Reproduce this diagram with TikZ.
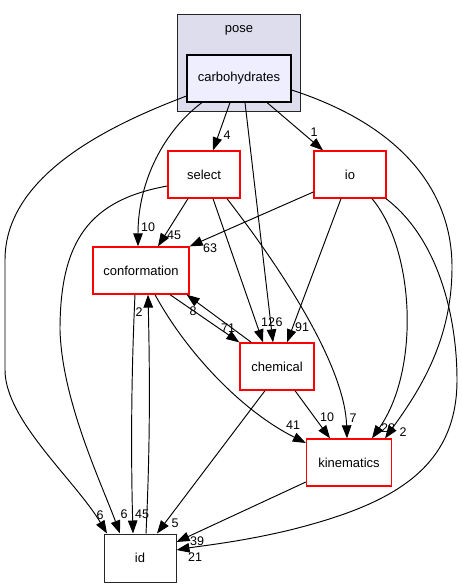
\documentclass[tikz,border=0pt]{standalone}
\usepackage{fontspec}
\setmainfont{Liberation Sans}
\usetikzlibrary{arrows.meta,calc}
\definecolor{clusterfill}{HTML}{DDDDEE}
\definecolor{carbfill}{HTML}{EEEEFF}
\begin{document}
\begin{tikzpicture}[x=1pt,y=-1pt,
  dirnode/.style={draw=red, fill=white, line width=1.3pt, minimum height=47pt, inner sep=0pt, font=\fontsize{13}{15}\selectfont},
  edge/.style={line width=0.95pt, -{Triangle[length=13pt,width=9.5pt]}},
  lbl/.style={font=\fontsize{12.5}{14}\selectfont, inner sep=0pt}]
\useasboundingbox (0,0) rectangle (461,588);
% cluster
\node[draw=black!85, fill=clusterfill, line width=1pt, minimum width=123pt, minimum height=97pt, inner sep=0pt] (pose) at (238.5,63.5) {};
\node[font=\fontsize{13}{15}\selectfont, inner sep=0pt] (posel) at (239,30) {pose};
\node[draw=black, fill=carbfill, line width=1.1pt, minimum width=104pt, minimum height=47pt, inner sep=0pt, font=\fontsize{13}{15}\selectfont] (carb) at (239,78.5) {carbohydrates};
% nodes
\node[dirnode, minimum width=72pt] (select) at (204,174.5) {select};
\node[dirnode, minimum width=96pt] (conf) at (141,270.5) {conformation};
\node[dirnode, minimum width=72pt] (io) at (350,174.5) {io};
\node[dirnode, minimum width=74pt] (chem) at (277,366.5) {chemical};
\node[dirnode, minimum width=85pt] (kin) at (349,462.5) {kinematics};
\node[dirnode, draw=black!85, line width=1pt, minimum width=72pt, minimum height=48pt] (id) at (140,558) {id};
% edges
\draw[edge] ($(carb.west)+(0,17.5)$) .. controls (110,125) and (5,175) .. (5,260) -- (5,370) .. controls (5,420) and (75,480) .. ($(id.north)+(-33,0)$);
\node[lbl] (l1) at (100,515) {6};
\draw[edge] ($(carb.south)+(-37,0)$) .. controls (165,130) and (138,180) .. ($(conf.north)+(-3,0)$);
\node[lbl] (l2) at (148,227) {10};
\draw[edge] ($(carb.south)+(-9,0)$) -- ($(select.north)+(9,0)$);
\node[lbl] (l3) at (227,135) {4};
\draw[edge] ($(carb.south)+(6,0)$) -- ($(chem.north)+(-4,0)$);
\node[lbl] (l4) at (279,322) {6};
\draw[edge] ($(carb.south)+(28,0)$) -- ($(io.north)+(-27,0)$);
\node[lbl] (l5) at (314,132) {1};
\draw[edge] ($(carb.east)+(0,11.5)$) .. controls (400,125) and (452,190) .. (452,267) .. controls (452,340) and (420,390) .. ($(kin.north)+(36,0)$);
\node[lbl] (l6) at (403,432) {2};
\draw[edge] ($(select.south)+(-16,0)$) -- ($(conf.north)+(17,0)$);
\node[lbl] (l7) at (174,235) {45};
\draw[edge] ($(select.west)+(0,11.5)$) .. controls (90,200) and (60,240) .. (60,330) .. controls (62,400) and (100,480) .. ($(id.north)+(-20,0)$);
\node[lbl] (l8) at (124,514) {6};
\draw[edge] ($(select.south)+(9,0)$) -- ($(chem.north)+(-14,0)$);
\node[lbl] (l9) at (268,322) {12};
\draw[edge] ($(select.south)+(23,0)$) .. controls (290,280) and (345,370) .. ($(kin.north)+(-2,0)$);
\node[lbl] (l10) at (353,418) {7};
\draw[edge] ($(io.west)+(0,17.5)$) -- (conf.north east);
\node[lbl] (l11) at (210,248) {63};
\draw[edge] ($(io.south)+(-9,0)$) -- ($(chem.north)+(10,0)$);
\node[lbl] (l12) at (302,327) {91};
\draw[edge] ($(io.south)+(22,0)$) .. controls (415,250) and (420,370) .. ($(kin.north)+(23,0)$);
\node[lbl] (l13) at (388,428) {28};
\draw[edge] ($(io.south)+(36,0)$) .. controls (440,240) and (457,320) .. (457,380) .. controls (457,470) and (390,505) .. (290,530) .. controls (240,542) and (200,546) .. ($(id.east)+(0,-8)$);
\node[lbl] (l14) at (195,557) {21};
\draw[edge] ($(conf.south)+(-6,0)$) .. controls (131,380) and (131,460) .. ($(id.north)+(-7,0)$);
\node[lbl] (l15) at (142,514) {45};
\draw[edge] ($(id.north)+(6,0)$) .. controls (150,450) and (150,380) .. ($(conf.south)+(7,0)$);
\node[lbl] (l16) at (139,312) {2};
\draw[edge] ($(conf.south)+(29,0)$) -- (chem.north west);
\node[lbl] (l17) at (228,328) {71};
\draw[edge] ($(chem.north west)+(12,0)$) -- ($(conf.south east)+(-3,0)$);
\node[lbl] (l18) at (193,311) {8};
\draw[edge] ($(conf.south)+(14,0)$) .. controls (185,350) and (240,410) .. ($(kin.west)+(0,-19.5)$);
\node[lbl] (l19) at (293,425) {41};
\draw[edge] ($(chem.south)+(18,0)$) -- ($(kin.north)+(-19,0)$);
\node[lbl] (l20) at (327,417) {10};
\draw[edge] ($(chem.south)+(-12,0)$) -- ($(id.north)+(17,0)$);
\node[lbl] (l21) at (175,523) {5};
\draw[edge] ($(kin.west)+(0,19.5)$) -- ($(id.east)+(0,-16)$);
\node[lbl] (l22) at (197,541) {39};
\end{tikzpicture}
\end{document}
